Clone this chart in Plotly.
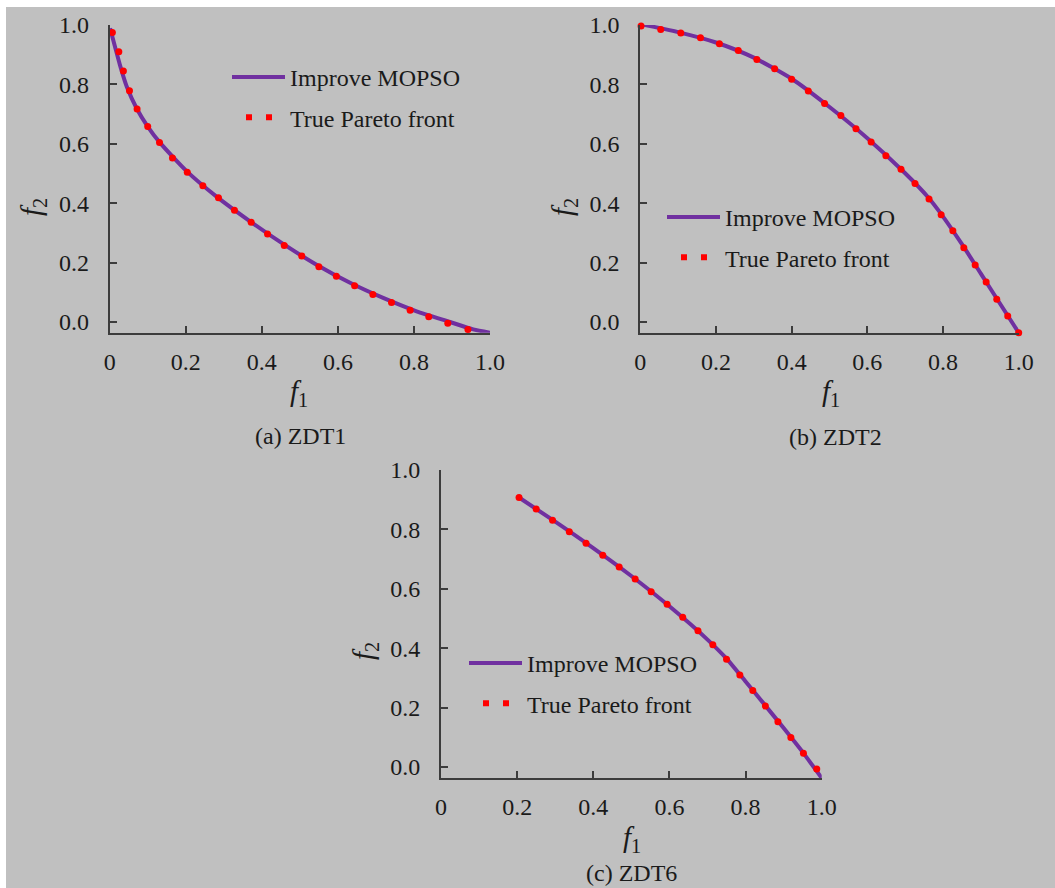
import plotly.graph_objects as go

# ---------------- data ----------------
# (a) ZDT1
a_true_f1 = [0.007, 0.024, 0.036, 0.052, 0.072, 0.100, 0.131, 0.165, 0.204, 0.245, 0.286, 0.328, 0.372,
             0.415, 0.459, 0.505, 0.550, 0.596, 0.644, 0.692, 0.741, 0.790, 0.839, 0.889, 0.942, 0.994]
a_true_f2 = [0.975, 0.910, 0.845, 0.779, 0.717, 0.658, 0.604, 0.552, 0.504, 0.459, 0.418, 0.376, 0.336,
             0.296, 0.258, 0.222, 0.186, 0.154, 0.122, 0.093, 0.066, 0.040, 0.018, -0.004, -0.025, -0.038]
a_line_f1 = [0.001, 0.014, 0.027, 0.045, 0.071, 0.100, 0.132, 0.203, 0.281, 0.369, 0.456, 0.545, 0.632,
             0.719, 0.807, 0.895, 0.956, 1.000]
a_line_f2 = [0.989, 0.927, 0.865, 0.792, 0.719, 0.658, 0.604, 0.507, 0.422, 0.339, 0.263, 0.192, 0.132,
             0.081, 0.036, 0.000, -0.025, -0.036]

# (b) ZDT2
b_true_f1 = [0.002, 0.054, 0.107, 0.159, 0.209, 0.259, 0.308, 0.355, 0.400, 0.444, 0.487, 0.530, 0.570,
             0.610, 0.649, 0.689, 0.726, 0.763, 0.795, 0.826, 0.855, 0.885, 0.914, 0.942, 0.971, 1.000]
b_true_f2 = [0.997, 0.985, 0.973, 0.957, 0.937, 0.914, 0.884, 0.853, 0.817, 0.778, 0.736, 0.695, 0.651,
             0.606, 0.560, 0.514, 0.466, 0.414, 0.361, 0.307, 0.250, 0.192, 0.135, 0.077, 0.020, -0.036]
b_line_f1 = [0.000, 0.100, 0.200, 0.300, 0.400, 0.500, 0.600, 0.700, 0.760, 0.800, 0.850, 0.900, 0.950, 1.000]
b_line_f2 = [1.003, 0.976, 0.941, 0.890, 0.819, 0.724, 0.619, 0.501, 0.421, 0.355, 0.262, 0.163, 0.063, -0.036]

# (c) ZDT6
c_true_f1 = [0.205, 0.250, 0.293, 0.337, 0.381, 0.425, 0.468, 0.510, 0.552, 0.594, 0.635, 0.675, 0.714,
             0.750, 0.785, 0.819, 0.852, 0.885, 0.919, 0.952, 0.987]
c_true_f2 = [0.907, 0.869, 0.831, 0.792, 0.753, 0.713, 0.673, 0.633, 0.590, 0.548, 0.504, 0.459, 0.412,
             0.363, 0.310, 0.258, 0.205, 0.152, 0.099, 0.046, -0.007]
c_line_f1 = [0.203, 0.300, 0.400, 0.500, 0.600, 0.700, 0.750, 0.800, 0.850, 0.900, 0.950, 1.000]
c_line_f2 = [0.909, 0.826, 0.737, 0.643, 0.541, 0.429, 0.365, 0.288, 0.210, 0.131, 0.050, -0.037]

x_tickvals = [0, 0.2, 0.4, 0.6, 0.8, 1.0]
x_ticktext = ["0", "0.2", "0.4", "0.6", "0.8", "1.0"]
y_tickvals = [0, 0.2, 0.4, 0.6, 0.8, 1.0]
y_ticktext = ["0.0", "0.2", "0.4", "0.6", "0.8", "1.0"]

captions = ["(a) ZDT1", "(b) ZDT2", "(c) ZDT6"]
name_line = "Improve MOPSO"
name_true = "True Pareto front"

# ---------------- styling ----------------
W, H = 1055, 888
FONT = "Liberation Serif, Times New Roman, serif"
PURPLE = "#7030A0"
RED = "#FF0000"
AXC = "#3c3c3c"
BG = "#c0c0c0"
TXT = "#1a1a1a"

def fx(px):
    return px / W

def fy(py):
    return 1 - py / H

panels = [
    dict(xd=(109.7, 490.0), yd=(25.0, 332.7), ymin=-0.036, leg=(227, 55), f2=(33, 207), f1=(299, 393), cap=(300, 436),
         data=(a_line_f1, a_line_f2, a_true_f1, a_true_f2)),
    dict(xd=(640.3, 1018.7), yd=(25.0, 332.7), ymin=-0.036, leg=(662, 195), f2=(564, 207), f1=(831, 393), cap=(835, 437),
         data=(b_line_f1, b_line_f2, b_true_f1, b_true_f2)),
    dict(xd=(441.0, 821.7), yd=(470.0, 778.0), ymin=-0.037, leg=(464, 641), f2=(365, 651), f1=(632, 839), cap=(631, 873),
         data=(c_line_f1, c_line_f2, c_true_f1, c_true_f2)),
]

fig = go.Figure()
layout = dict(
    width=W, height=H, autosize=False,
    margin=dict(l=0, r=0, t=0, b=0, pad=0, autoexpand=False),
    paper_bgcolor=BG, plot_bgcolor="rgba(0,0,0,0)",
    font=dict(family=FONT, size=24, color=TXT),
    showlegend=True,
    annotations=[],
    shapes=[
        dict(type="rect", xref="paper", yref="paper", x0=0, x1=1, y0=1 - 7 / H, y1=1,
             fillcolor="white", line=dict(width=0), layer="below"),
        dict(type="rect", xref="paper", yref="paper", x0=0, x1=6 / W, y0=0, y1=1,
             fillcolor="white", line=dict(width=0), layer="below"),
    ],
)

for i, p in enumerate(panels):
    k = "" if i == 0 else str(i + 1)
    xa, ya = "x" + k, "y" + k
    leg = "legend" + k
    lf1, lf2, tf1, tf2 = p["data"]
    fig.add_trace(go.Scatter(x=lf1, y=lf2, mode="lines", name=name_line,
                             line=dict(color=PURPLE, width=4, shape="spline", smoothing=0.6),
                             xaxis=xa, yaxis=ya, legend=leg, legendgroup="l" + k,
                             cliponaxis=False, hoverinfo="skip"))
    fig.add_trace(go.Scatter(x=tf1, y=tf2, mode="markers", name=name_true,
                             marker=dict(color=RED, size=7, line=dict(width=0)),
                             xaxis=xa, yaxis=ya, showlegend=False, legendgroup="t" + k,
                             cliponaxis=False, hoverinfo="skip"))
    # legend entry drawn as a dotted segment, like the reference
    fig.add_trace(go.Scatter(x=[None], y=[None], mode="lines", name=name_true,
                             line=dict(color=RED, width=6, dash="0px,14px,6px,14px,6px,200px"),
                             xaxis=xa, yaxis=ya, legend=leg, legendgroup="t" + k, showlegend=True))

    axis_common = dict(showgrid=False, zeroline=False, showline=True, linecolor=AXC, linewidth=2,
                       ticks="inside", ticklen=7, tickwidth=2, tickcolor=AXC, automargin=False,
                       tickfont=dict(family=FONT, size=24, color=TXT), fixedrange=True)
    layout["xaxis" + k] = dict(axis_common, domain=[fx(p["xd"][0]), fx(p["xd"][1])], range=[0, 1],
                               anchor=ya, tickvals=x_tickvals, ticktext=x_ticktext, ticklabelstandoff=6)
    layout["yaxis" + k] = dict(axis_common, domain=[fy(p["yd"][1]), fy(p["yd"][0])], range=[p["ymin"], 1.0],
                               anchor=xa, tickvals=y_tickvals, ticktext=y_ticktext, ticklabelstandoff=14)
    layout[leg] = dict(x=fx(p["leg"][0]), y=fy(p["leg"][1]), xanchor="left", yanchor="top",
                       bgcolor="rgba(0,0,0,0)", borderwidth=0, itemwidth=53, tracegroupgap=6,
                       font=dict(family=FONT, size=24, color=TXT))
    layout["annotations"] += [
        dict(xref="paper", yref="paper", x=fx(p["f2"][0]), y=fy(p["f2"][1]), text="<i>f</i><sub>2</sub>",
             showarrow=False, textangle=-90, xanchor="center", yanchor="middle",
             font=dict(family=FONT, size=29, color=TXT)),
        dict(xref="paper", yref="paper", x=fx(p["f1"][0]), y=fy(p["f1"][1]), text="<i>f</i><sub>1</sub>",
             showarrow=False, xanchor="center", yanchor="middle",
             font=dict(family=FONT, size=29, color=TXT)),
        dict(xref="paper", yref="paper", x=fx(p["cap"][0]), y=fy(p["cap"][1]), text=captions[i],
             showarrow=False, xanchor="center", yanchor="middle",
             font=dict(family=FONT, size=24, color=TXT)),
    ]

fig.update_layout(**layout)
fig.write_html("out.html", config={"responsive": False, "displayModeBar": False},
               post_script="document.body.style.margin='0';document.body.style.overflow='hidden';")
